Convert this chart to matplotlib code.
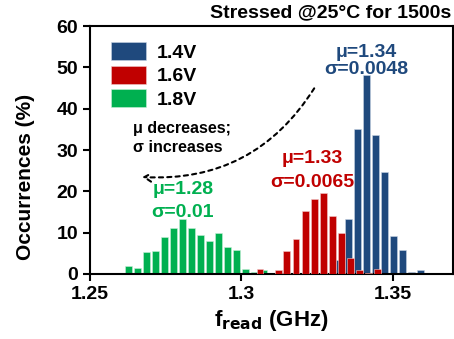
import matplotlib.pyplot as plt
from matplotlib.patches import FancyArrowPatch

plt.rcParams['font.family'] = ['Liberation Sans', 'DejaVu Sans']
plt.rcParams['font.weight'] = 'bold'

# bin centres (GHz) and occurrences (%)
green_x = [1.2626, 1.2656, 1.2686, 1.2716, 1.2746, 1.2776, 1.2806, 1.2836, 1.2865,
           1.2895, 1.2925, 1.2955, 1.2985, 1.3015, 1.3045, 1.3075, 1.3104, 1.3164, 1.3194]
green_y = [2.0, 1.5, 5.3, 5.6, 8.9, 11.0, 13.2, 11.0, 9.5,
           7.9, 10.0, 6.5, 5.7, 1.2, 0.4, 1.0, 0.3, 0.3, 0.3]

blue_x = [1.3324, 1.3354, 1.3384, 1.3413, 1.3443, 1.3473, 1.3503, 1.3533, 1.3563, 1.3593]
blue_y = [3.3, 13.3, 35.2, 48.1, 33.7, 24.6, 9.1, 5.9, 0.5, 1.0]

red_x = [1.3062, 1.3122, 1.3151, 1.3181, 1.3211, 1.3241, 1.3271, 1.3301, 1.3331,
         1.3360, 1.3390, 1.3420, 1.3450]
red_y = [1.3, 1.0, 5.6, 8.5, 15.2, 18.2, 19.5, 14.1, 10.0, 3.9, 1.0, 0.3, 1.2]

labels = ['1.4V', '1.6V', '1.8V']
colors = ['#1F497D', '#C00000', '#00B050']

fig = plt.figure(figsize=(4.54, 3.39), dpi=100)
ax = fig.add_axes([0.198, 0.192, 0.800, 0.731])

w = 0.0023
b_blue = ax.bar(blue_x, blue_y, width=w, color=colors[0], edgecolor='#c8d4e4', linewidth=0.4, zorder=2)
b_red = ax.bar(red_x, red_y, width=w, color=colors[1], edgecolor='#f0c8c8', linewidth=0.4, zorder=3)
b_green = ax.bar(green_x, green_y, width=w, color=colors[2], edgecolor='#c8f0d8', linewidth=0.4, zorder=1)

ax.set_xlim(1.25, 1.37)
ax.set_ylim(0, 60)
ax.set_xticks([1.25, 1.3, 1.35])
ax.set_xticklabels(['1.25', '1.3', '1.35'])
ax.set_yticks(range(0, 61, 10))
for s in ax.spines.values():
    s.set_linewidth(1.5)
ax.tick_params(axis='both', labelsize=14, width=1.5, length=5, direction='out')
ax.tick_params(axis='x', pad=4)

ax.set_xlabel(r'f$_{\mathbf{read}}$ (GHz)', fontsize=16, fontweight='bold', labelpad=3)
ax.set_ylabel('Occurrences (%)', fontsize=15, fontweight='bold')
ax.yaxis.set_label_coords(-0.15, 0.39)
fig.text(0.993, 0.962, 'Stressed @25°C for 1500s', ha='right', va='center', fontsize=14, fontweight='bold')

leg = ax.legend([b_blue, b_red, b_green], labels, loc='upper left', frameon=False,
                fontsize=14, handlelength=1.8, handleheight=1.05, labelspacing=0.2,
                handletextpad=0.55, borderaxespad=0.3, bbox_to_anchor=(0.02, 0.99))
for t in leg.get_texts():
    t.set_fontweight('bold')

ax.text(1.3414, 53.5, 'μ=1.34', color=colors[0], fontsize=14, fontweight='bold', ha='center', va='center')
ax.text(1.3414, 49.5, 'σ=0.0048', color=colors[0], fontsize=14, fontweight='bold', ha='center', va='center')
ax.text(1.3236, 27.9, 'μ=1.33', color=colors[1], fontsize=14, fontweight='bold', ha='center', va='center')
ax.text(1.3236, 22.2, 'σ=0.0065', color=colors[1], fontsize=14, fontweight='bold', ha='center', va='center')
ax.text(1.2807, 20.5, 'μ=1.28', color=colors[2], fontsize=14, fontweight='bold', ha='center', va='center')
ax.text(1.2807, 14.9, 'σ=0.01', color=colors[2], fontsize=14, fontweight='bold', ha='center', va='center')

ax.text(1.2641, 33.0, 'μ decreases;\nσ increases', fontsize=11.5, fontweight='bold',
        ha='left', va='center', linespacing=1.35)

arr = FancyArrowPatch((1.3246, 45.5), (1.2664, 23.5), connectionstyle='arc3,rad=-0.3',
                      arrowstyle='->,head_length=5,head_width=3', linestyle=(0, (2, 2)),
                      color='black', linewidth=1.5, zorder=4)
ax.add_patch(arr)

fig.savefig('out.png', dpi=100)
